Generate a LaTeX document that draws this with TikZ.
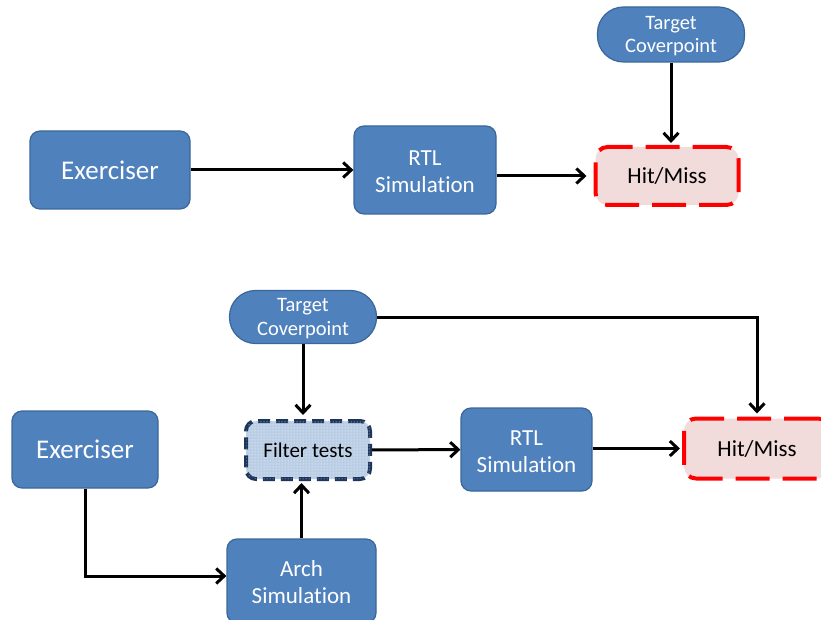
\documentclass[tikz,border=0pt]{standalone}
\usepackage{fontspec}
\setmainfont{Carlito}[Ligatures={NoCommon}]
\usetikzlibrary{arrows.meta,patterns}
\definecolor{boxblue}{HTML}{4F81BD}
\definecolor{boxedge}{HTML}{3A679A}
\definecolor{hitfill}{HTML}{F2DCDB}
\definecolor{filterfill}{HTML}{B9CDE5}
\definecolor{filteredge}{HTML}{1C355A}
\tikzset{
  blockbox/.style={draw=boxedge, line width=1.2pt, fill=boxblue, text=white,
    rounded corners=10pt, inner sep=0pt, align=center, font=\fontsize{23}{27}\selectfont},
  targetbox/.style={blockbox, rounded corners=26pt, font=\fontsize{20.5}{23.5}\selectfont},
  hitbox/.style={draw=red, line width=4pt, dash pattern=on 34pt off 13pt, fill=hitfill,
    rounded corners=12pt, inner sep=0pt, text=black, font=\fontsize{23}{27}\selectfont},
  filterbox/.style={draw=filteredge, line width=4pt, dash pattern=on 12pt off 6pt,
    fill=filterfill, postaction={pattern=dots, pattern color=white},
    rounded corners=10pt, inner sep=0pt, text=black, font=\fontsize{21}{25}\selectfont},
  arr/.style={line width=3pt, -{Straight Barb[length=8pt,width=15pt]}},
}
\begin{document}
\begin{tikzpicture}[x=1pt,y=-1pt]
\useasboundingbox (0,0) rectangle (821,620);
\clip (0,0) rectangle (821,620);
\fill[white] (0,0) rectangle (821,620);

% first flow: exerciser straight into RTL simulation
\node[blockbox, minimum width=160pt, minimum height=78pt, font=\fontsize{27}{30}\selectfont]
  (ex1) at (110,170) {Exerciser};
\node[blockbox, minimum width=142pt, minimum height=88pt] (rtl1) at (425,170) {\strut RTL\\Simulation};
\node[hitbox, minimum width=143pt, minimum height=58pt] (hit1) at (667,176) {Hit/Miss};
\node[targetbox, minimum width=147pt, minimum height=55pt] (tgt1) at (671,34.5) {\strut Target\\Coverpoint};

\draw[arr] (ex1) -- (rtl1);
\draw[arr, shorten >=7pt] (rtl1.east |- hit1) -- (hit1.west);
\draw[arr, shorten >=2pt] (tgt1.south) -- (tgt1.south |- hit1.north);

% second flow: tests filtered through architectural simulation
\node[blockbox, minimum width=146pt, minimum height=77pt, font=\fontsize{27}{30}\selectfont]
  (ex2) at (85,449.5) {Exerciser};
\node[targetbox, minimum width=147pt, minimum height=53pt] (tgt2) at (303,317) {\strut Target\\Coverpoint};
\node[filterbox, minimum width=124pt, minimum height=58pt] (filt) at (308,450) {Filter tests};
\node[blockbox, minimum width=131pt, minimum height=83pt] (rtl2) at (526.5,449.5) {\strut RTL\\Simulation};
\node[hitbox, minimum width=146pt, minimum height=60pt] (hit2) at (757,448.5) {Hit/Miss};
\node[blockbox, minimum width=149pt, minimum height=84pt] (arch) at (301.5,581) {\strut Arch\\Simulation};

\draw[arr, shorten >=4pt] (tgt2.south) -- (tgt2.south |- filt.north);
\draw[arr, shorten >=2pt] (arch.north) -- (arch.north |- filt.south);
\draw[arr] (ex2.south) |- ([yshift=5pt]arch.west);
\draw[arr] (filt) -- (rtl2);
\draw[arr, shorten >=2pt] (rtl2.east |- hit2) -- (hit2.west);
\draw[arr, shorten >=3pt] (tgt2.east) -| (hit2.north);
\end{tikzpicture}
\end{document}
